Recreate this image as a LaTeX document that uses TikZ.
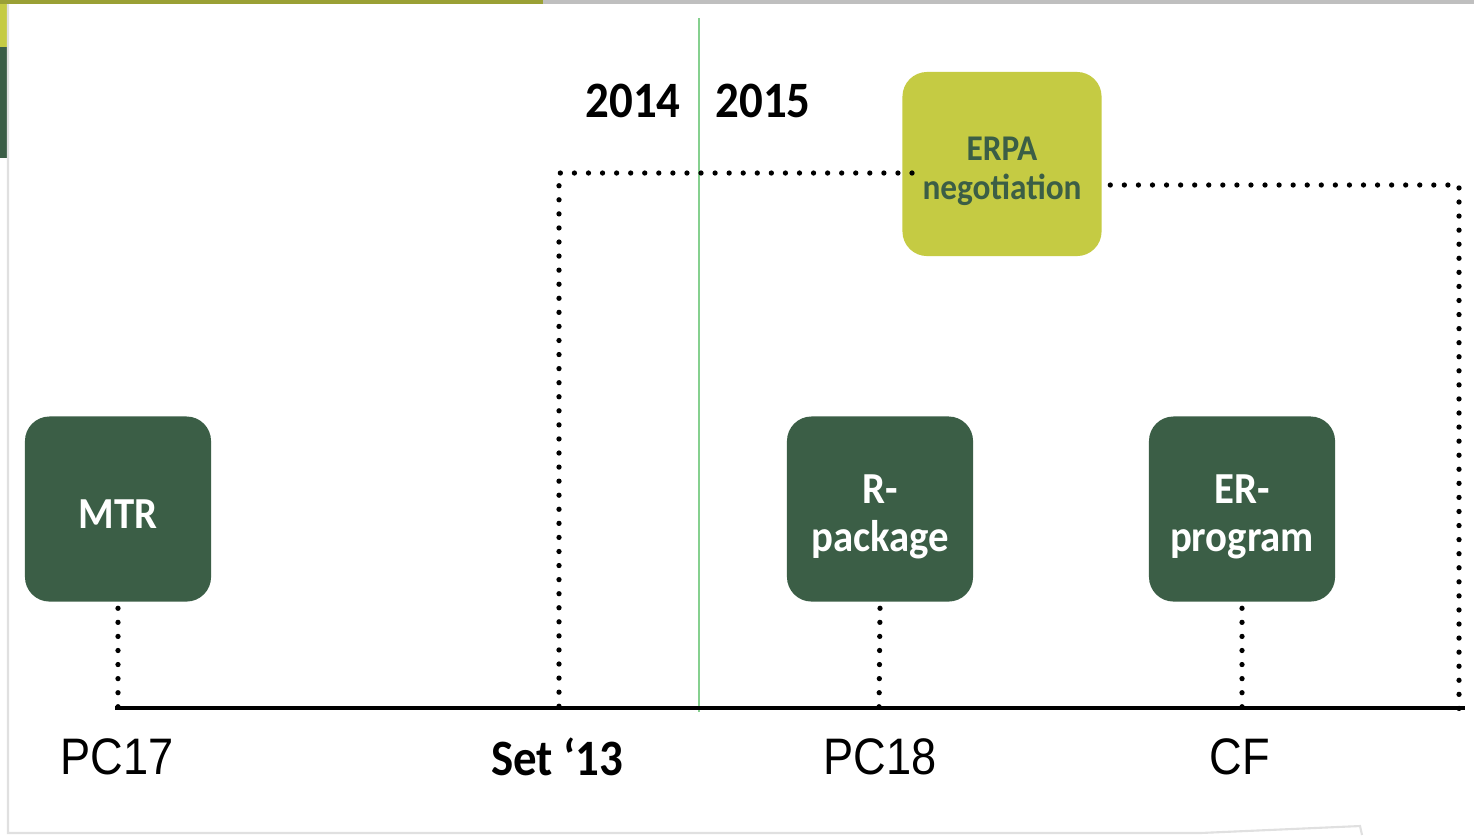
\documentclass[tikz,border=0pt]{standalone}
\usepackage{fontspec}
\setmainfont{Carlito}[FakeStretch=0.92]
\newfontfamily\helv{Liberation Sans}[FakeStretch=0.88]
\usepackage{xcolor}
\usetikzlibrary{positioning}

\definecolor{darkgreen}{HTML}{3B5E46}
\definecolor{olive}{HTML}{C5CB43}
\definecolor{darkolive}{HTML}{9AA035}
\definecolor{yearline}{HTML}{86D08F}

\begin{document}
\begin{tikzpicture}[
    x=0.01cm, y=-0.01cm,
    box/.style={rectangle, rounded corners=7pt, fill=darkgreen, minimum width=1.86cm, minimum height=1.85cm},
    erpabox/.style={box, fill=olive, minimum width=1.99cm, minimum height=1.84cm},
    boxtext/.style={text=white, align=center, inner sep=0pt, font=\fontsize{12.6}{13.8}\selectfont\bfseries},
    erpatext/.style={boxtext, text=darkgreen, font=\fontsize{10.3}{11.2}\selectfont\bfseries},
    year/.style={font=\fontsize{14.5}{16}\selectfont\bfseries},
    label/.style={font=\helv\fontsize{14.6}{16}\selectfont},
    dotline/.style={line width=1.5pt, line cap=round, dash pattern=on 0pt off 4pt}
]
    \useasboundingbox (0,0) rectangle (1474,835);

    % Slide frame
    \fill[white] (0,0) rectangle (1474,835);
    \fill[darkolive] (0,0) rectangle (543,4);
    \fill[black!25] (543,0) rectangle (1474,4);
    \fill[olive] (0,4) rectangle (7,47);
    \fill[darkgreen] (0,47) rectangle (7,158);
    \draw[black!12, line width=0.6pt] (8,4) -- (8,833) -- (1200,833) -- (1360,826) -- (1362,835);

    % Boxes
    \node[box] (mtr) at (118,509) {};
    \node[box] (rpack) at (880,509) {};
    \node[box] (erprog) at (1242,509) {};
    \node[erpabox] (erpa) at (1002,164) {};

    % Box texts
    \node[boxtext] (mtrtext) at (118,514) {MTR};
    \node[boxtext] (rpacktext) at (880,517) {R-\\package};
    \node[boxtext] (erprogtext) at (1242,517) {ER-\\program};
    \node[erpatext] (erpatext) at (1002,171) {ERPA\\negotiation};

    % Years
    \node[year] (y2014) at (633,101) {2014};
    \node[year] (y2015) at (763,101) {2015};

    % Timeline points
    \coordinate (pc17) at (118,711);
    \coordinate (set13) at (559,711);
    \coordinate (pc18) at (879,711);
    \coordinate (cf) at (1242,711);
    \coordinate (pend) at (1459,711);
    \coordinate (setcorner) at (559,173);
    \coordinate (erpain) at (912,173);
    \coordinate (endcorner) at (1459,185);
    \coordinate (yeartop) at (699,18);
    \coordinate (yearbot) at (699,712);

    % Year divider
    \draw[yearline, line width=0.6pt] (yeartop) -- (yearbot);

    % Timeline
    \draw[line width=0.9pt] (115,708) coordinate (tstart) -- (1465,708) coordinate (tend);

    % Connections
    \draw[dotline] ([yshift=-0.06cm]mtr.south) -- (pc17);
    \draw[dotline] ([yshift=-0.06cm]rpack.south) -- (pc18);
    \draw[dotline] ([yshift=-0.06cm]erprog.south) -- (cf);
    \draw[dotline] (erpain) -- (setcorner) -- (set13);
    \draw[dotline] ([xshift=0.08cm]erpa.east |- endcorner) -- (endcorner) -- (pend);

    % Labels
    \node[label] (lpc17) at (117,757) {PC17};
    \node[year] (lset13) at (557,757) {Set ‘13};
    \node[label] (lpc18) at (880,757) {PC18};
    \node[label] (lcf) at (1240,757) {CF};
\end{tikzpicture}
\end{document}
